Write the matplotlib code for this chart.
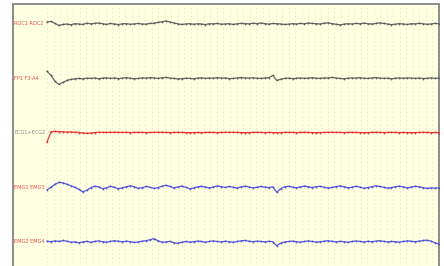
#!/usr/bin/env python3
# plot.py - five-channel polygraph strip (EEG/EOG/ECG/EMG style)
import numpy as np
import matplotlib
matplotlib.use("Agg")
import matplotlib.pyplot as plt

# channel names (tiny red labels on the left)
labels = ["ROC1 ROC2", "FP1 F3-A4", "ECG1+ECG2", "EMG1 EMG3", "EMG2 EMG4"]

# deflections of each trace (up = positive)
ch1 = [2.0, 2.5, 0.5, -1.5, -0.5, 0.0, -0.8, 0.3, 0.0, -0.5, 0.8, 0.2, 0.6, 1.0, 0.3, -0.4, 0.5, 0.0, -0.6, 0.2,
       0.4, -0.3, 0.1, 0.5, 0.0, -0.2, 0.6, 0.8, 1.5, 2.2, 3.0, 2.0, 1.0, 0.2, -0.5, 0.0, 0.4, -0.3, 0.2, 0.0,
       -0.6, 0.3, 0.1, 0.5, -0.2, 0.0, 0.3, -0.5, 0.2, 0.6, 0.4, 0.1, 0.8, 0.3, 1.0, 0.4, -0.2, 0.5, 0.3, 0.0,
       -0.5, -0.2, 0.4, 0.0, 0.6, 0.2, 1.0, 0.5, 0.3, 0.0, 0.8, 1.2, 0.4, -0.3, -0.8, -0.2, 0.3, 0.0, 0.6, 0.2,
       0.9, 0.3, 0.0, 0.5, 1.1, 0.6, 0.0, -0.6, -0.2, 0.4, 0.0, -0.5, 0.3, 0.1, 0.7, 0.2, -0.3, 0.0, 0.6, 0.2]
ch2 = [7.0, 3.0, -3.0, -6.0, -4.0, -2.0, -1.0, -0.5, 0.0, -0.5, 0.3, 0.0, 0.5, -0.3, 0.2, 0.6, 0.0, 0.4, -0.2, 0.3,
       0.8, 0.2, -0.4, 0.0, 0.5, 0.3, 0.9, 0.5, 0.0, 0.6, 1.0, 0.4, 0.0, -0.5, -0.3, 0.2, 0.0, -0.4, 0.3, 0.6,
       0.0, 0.4, 0.2, 0.8, 0.3, 0.5, -0.2, 0.0, 0.4, 0.9, 0.5, 0.3, 0.7, 0.2, 0.0, 0.4, 0.6, 3.0, -2.0, -0.8,
       0.0, 0.3, -0.3, 0.2, 0.5, 0.0, 0.4, 0.8, 0.2, 0.0, 0.6, 0.3, 1.0, 0.4, 0.0, -0.4, 0.2, 0.5, 0.3, 0.8,
       0.2, 0.0, 0.5, 0.9, 0.4, 0.0, 0.3, -0.3, 0.2, 0.5, 0.1, 0.6, 0.3, 0.0, 0.4, -0.2, 0.2, 0.5, 0.0, 0.3]
ch3 = [-9.0, 1.2, 1.5, 1.2, 1.0, 0.8, 0.9, 0.6, 0.3, 0.0, -0.5, -0.2, 0.3, 0.6, 0.5, 0.4, 0.5, 0.6, 0.5, 0.4,
       0.5, 0.3, 0.4, 0.5, 0.4, 0.3, 0.4, 0.5, 0.6, 0.5, 0.4, 0.3, 0.4, 0.5, 0.4, 0.3, 0.2, 0.3, 0.4, 0.3,
       0.4, 0.5, 0.4, 0.3, 0.4, 0.5, 0.6, 0.5, 0.4, 0.3, 0.2, 0.3, 0.4, 0.5, 0.4, 0.3, 0.4, 0.3, 0.2, 0.3,
       0.4, 0.5, 0.4, 0.3, 0.4, 0.5, 0.4, 0.3, 0.2, 0.3, 0.4, 0.5, 0.6, 0.5, 0.4, 0.3, 0.4, 0.5, 0.4, 0.3,
       0.2, 0.3, 0.4, 0.5, 0.4, 0.3, 0.4, 0.5, 0.4, 0.3, 0.4, 0.3, 0.2, 0.3, 0.4, 0.5, 0.4, 0.3, 0.4, 0.3]
ch4 = [-2.5, 0.0, 3.0, 5.0, 4.5, 3.0, 1.5, 0.0, -2.0, -4.5, -3.0, -0.5, 1.0, 0.5, -1.5, -0.5, 1.0, 0.0, -1.5, -0.5,
       0.5, 1.5, 0.5, -1.0, -0.5, 0.8, 0.0, -1.2, -0.3, 1.0, 2.0, 0.8, -0.5, 0.3, 1.2, 0.0, -1.5, -0.8, 0.5, 1.0,
       0.2, -0.6, 0.3, 1.5, 0.6, -0.2, 0.8, 0.0, -0.8, 0.4, 1.2, 0.3, -0.5, 0.0, 0.8, 0.2, -0.4, 0.5, -5.0, -1.5,
       0.5, 1.0, 0.2, -0.6, 0.4, 1.3, 0.5, -0.3, 0.6, 1.0, 0.0, -0.8, -0.2, 0.7, 1.4, 0.6, -0.5, 0.0, 1.0, 0.3,
       -1.0, -0.4, 0.6, 1.5, 0.8, 0.0, -0.8, -0.3, 0.6, 1.2, 0.4, -0.6, 0.2, 1.0, 0.5, -0.5, -1.2, -0.6, -0.9, -0.5]
ch5 = [0.5, 0.0, 0.8, 0.3, 1.2, 0.5, -0.5, -0.2, -1.0, -0.3, 0.4, -0.6, 0.2, 0.8, 0.0, -0.5, 0.3, 1.0, 0.5, -0.2,
       0.6, 0.0, -0.8, -0.2, 0.5, 1.0, 2.0, 3.0, 1.0, -0.5, -0.2, 0.3, -1.0, -1.5, -0.5, 0.2, -0.4, 0.0, 0.6, 0.2,
       -0.5, 0.3, 0.8, 0.2, -0.3, 0.5, 0.0, -0.6, 0.2, 0.9, 1.2, 0.5, 0.0, 0.6, 0.2, -0.3, 0.4, 0.0, -4.0, -1.5,
       -0.3, 0.2, 0.6, 0.0, -0.5, 0.3, 0.8, 0.2, -0.4, 0.0, 0.5, 1.0, 0.3, -0.2, 0.4, 0.0, -0.6, 0.2, 0.7, 0.3,
       -0.3, 0.4, 0.0, 0.6, 1.0, 0.4, -0.2, 0.3, 0.0, -0.5, 0.2, 0.8, 0.4, 0.0, 0.6, 1.2, 1.5, 0.5, -1.0, -2.5]
channels = [ch1, ch2, ch3, ch4, ch5]
trace_colors = ["#555555", "#555555", "#e82424", "#4646dc", "#4646dc"]
label_colors = ["#e84848", "#e84848", "#8a8a8a", "#e84848", "#e84848"]

fig = plt.figure(figsize=(4.44, 2.66), dpi=100)
ax = fig.add_axes([13 / 444, -0.01, 426 / 444, 1 - 4 / 266 + 0.01])
ax.set_facecolor("#ffffe2")

n = len(ch1)
start = 0.08  # traces begin right of the label column
ax.set_xlim(-start / (1 - start) * (n - 1), n - 1)
ax.set_ylim(265, 0)

# vertical dashed time grid
for gx in np.arange(0, n, 1.65):
    ax.axvline(gx, color="#ebe7c4", lw=0.6, ls=(0, (2, 3)), zorder=1)

spacing = 54.5
for i, (vals, col) in enumerate(zip(channels, trace_colors)):
    base = 20 + i * spacing
    y = base - np.array(vals)
    ax.plot(np.arange(len(vals)), y, color=col, lw=0.9, zorder=3,
            marker="o", markersize=1.3, markeredgewidth=0, alpha=0.9)
    ax.text(0.003, base, labels[i], transform=ax.get_yaxis_transform(),
            color=label_colors[i], fontsize=3.6, va="center", ha="left")

for side in ["top", "left", "right"]:
    ax.spines[side].set_color("#8c8c8c")
    ax.spines[side].set_linewidth(1.4)
ax.spines["bottom"].set_visible(False)
ax.set_xticks([])
ax.set_yticks([])

fig.savefig("out.png", dpi=100)
